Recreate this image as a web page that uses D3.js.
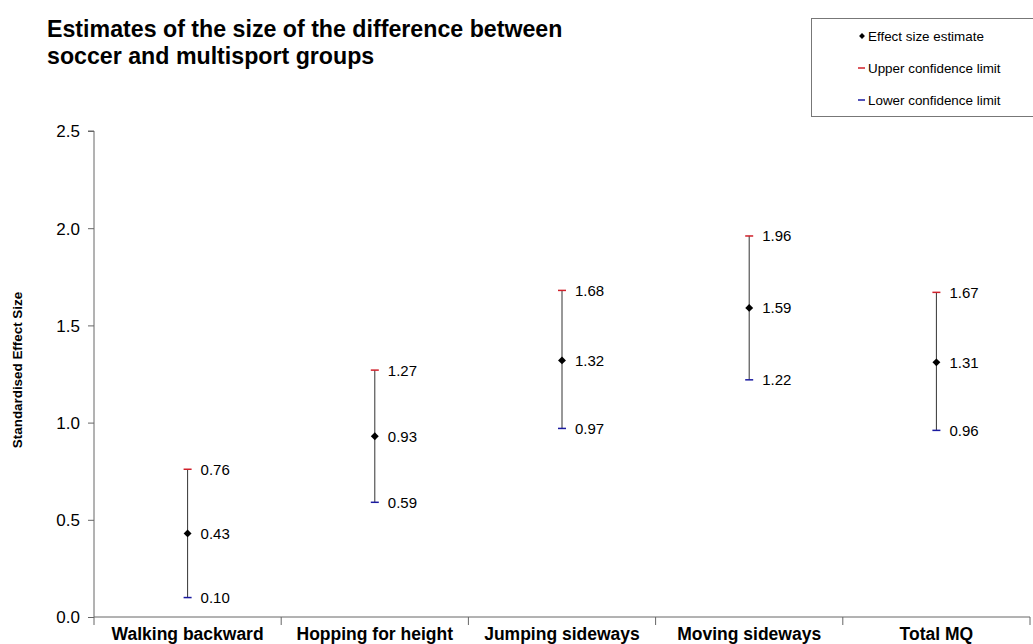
<!DOCTYPE html>
<html><head><meta charset="utf-8">
<script src="https://cdn.jsdelivr.net/npm/d3@7"></script>
<style>
body{margin:0;background:#fff;}
svg{display:block;font-family:Arial,"Liberation Sans",sans-serif;}
</style></head>
<body><svg id="c" width="1033" height="644"></svg>
<script>
const categories = ["Walking backward","Hopping for height","Jumping sideways","Moving sideways","Total MQ"];
const estimates = [0.43, 0.93, 1.32, 1.59, 1.31];
const upper = [0.76, 1.27, 1.68, 1.96, 1.67];
const lower = [0.10, 0.59, 0.97, 1.22, 0.96];
const yTicks = [0, 0.5, 1.0, 1.5, 2.0, 2.5];
const legendItems = ["Effect size estimate","Upper confidence limit","Lower confidence limit"];

(function(){
const svg = d3.select("#c");
const mLeft = 94, mRight = 1030, mTop = 131, mBottom = 617;
const x = d3.scaleBand().domain(categories).range([mLeft, mRight]).padding(0);
const y = d3.scaleLinear().domain([0, 2.5]).range([mBottom, mTop]);

// title
const t = svg.append("text").attr("font-size", 23.2).attr("font-weight", "bold").attr("fill", "#000");
t.append("tspan").attr("x", 47).attr("y", 37).text("Estimates of the size of the difference between");
t.append("tspan").attr("x", 47).attr("y", 64).text("soccer and multisport groups");

// y axis
const yAxis = svg.append("g").attr("transform", `translate(${mLeft},0)`)
  .call(d3.axisLeft(y).tickValues(yTicks).tickFormat(d3.format(".1f")).tickSize(6).tickPadding(8));
yAxis.select(".domain").attr("stroke", "#666").attr("d", `M-6,${mTop}H0V${mBottom}`);
yAxis.selectAll(".tick line").attr("stroke", "#666");
yAxis.selectAll(".tick text").attr("font-size", 17).attr("fill", "#000").attr("dy", "0.35em")
  .attr("font-family", "Arial, 'Liberation Sans', sans-serif");

// x axis
const xAxisG = svg.append("g");
xAxisG.append("line").attr("x1", mLeft).attr("x2", mRight).attr("y1", mBottom).attr("y2", mBottom).attr("stroke", "#666");
const bounds = categories.map(c => x(c)).concat([mRight]);
xAxisG.selectAll(".xt").data(bounds).join("line")
  .attr("x1", d => d).attr("x2", d => d).attr("y1", mBottom).attr("y2", mBottom + 8).attr("stroke", "#666");
xAxisG.selectAll(".xl").data(categories).join("text")
  .attr("x", d => x(d) + x.bandwidth() / 2).attr("y", 639.5)
  .attr("text-anchor", "middle").attr("font-size", 17.5).attr("font-weight", "bold")
  .attr("fill", "#000").text(d => d);

// y axis title
svg.append("text").attr("transform", `translate(22,370) rotate(-90)`)
  .attr("text-anchor", "middle").attr("font-size", 13.4).attr("font-weight", "bold")
  .text("Standardised Effect Size");

// error bars
const cx = i => x(categories[i]) + x.bandwidth() / 2;
const g = svg.append("g");
categories.forEach((c, i) => {
  g.append("line").attr("x1", cx(i)).attr("x2", cx(i)).attr("y1", y(upper[i])).attr("y2", y(lower[i]))
    .attr("stroke", "#333").attr("stroke-width", 1);
  g.append("line").attr("x1", cx(i) - 4).attr("x2", cx(i) + 4).attr("y1", y(upper[i])).attr("y2", y(upper[i]))
    .attr("stroke", "#d0202a").attr("stroke-width", 1.5);
  g.append("line").attr("x1", cx(i) - 4).attr("x2", cx(i) + 4).attr("y1", y(lower[i])).attr("y2", y(lower[i]))
    .attr("stroke", "#1a1aa0").attr("stroke-width", 1.5);
  g.append("path").attr("d", d3.symbol(d3.symbolDiamond2, 40)())
    .attr("transform", `translate(${cx(i)},${y(estimates[i])})`).attr("fill", "#000");
  [upper[i], estimates[i], lower[i]].forEach(v => {
    g.append("text").attr("x", cx(i) + 13).attr("y", y(v) + 5.5)
      .attr("font-size", 15).attr("fill", "#000").text(d3.format(".2f")(v));
  });
});

// legend
const lg = svg.append("g");
lg.append("rect").attr("x", 811.5).attr("y", 18.5).attr("width", 230).attr("height", 98)
  .attr("fill", "#fff").attr("stroke", "#777");
legendItems.forEach((s, i) => {
  const ly = 36 + i * 32;
  if (i === 0) {
    lg.append("path").attr("d", d3.symbol(d3.symbolDiamond2, 22)()).attr("transform", `translate(862,${ly})`).attr("fill", "#000");
  } else {
    lg.append("line").attr("x1", 858).attr("x2", 865).attr("y1", ly).attr("y2", ly)
      .attr("stroke", i === 1 ? "#d0202a" : "#1a1aa0").attr("stroke-width", 1.5);
  }
  lg.append("text").attr("x", 868).attr("y", ly + 4.5).attr("font-size", 13.4).attr("fill", "#000").text(s);
});
})();
</script>
</body></html>
